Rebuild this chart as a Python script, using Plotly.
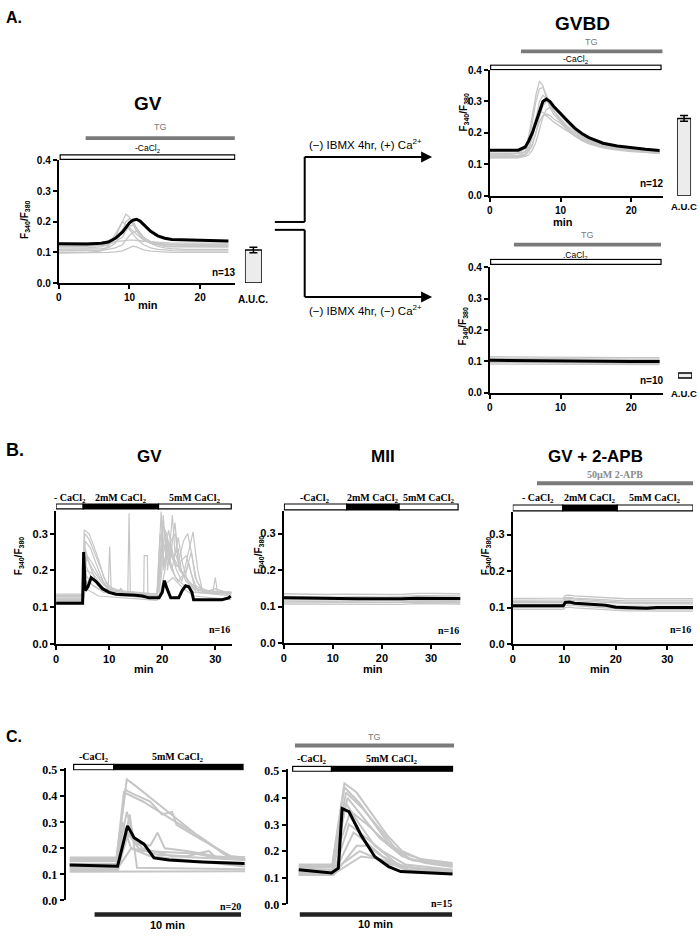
import plotly.graph_objects as go

W, H = 700, 937
FONT = "Liberation Sans, Arial, sans-serif"
SERIF = "Liberation Serif, Times New Roman, serif"
GREY = "#c6c6c6"
DRUG = "#7a7a7a"

# ================= DATA =================
# ---- Panel A, GV oocytes: TG in Ca-free medium ----
a_gv_t = [0, 2, 4, 6, 7, 8, 9, 9.5, 10, 10.5, 11, 11.5, 12, 13, 14, 15, 16, 18, 20, 22, 24]
a_gv_mean = [.128, .128, .127, .13, .134, .146, .166, .181, .196, .205, .208, .202, .19, .169, .154,
             .146, .142, .141, .139, .138, .137]
a_gv_cells = [
    [.115, .115, .115, .118, .125, .15, .2, .225, .215, .19, .17, .155, .14, .13, .125, .122, .12, .12, .12, .12, .12],
    [.11, .11, .11, .112, .115, .13, .17, .2, .21, .2, .18, .16, .145, .13, .125, .12, .118, .118, .117, .117, .117],
    [.12, .12, .12, .122, .125, .135, .15, .17, .185, .19, .18, .165, .15, .135, .13, .128, .126, .125, .125, .125, .125],
    [.105, .105, .105, .107, .11, .115, .125, .14, .155, .165, .17, .16, .145, .13, .12, .115, .112, .11, .11, .11, .11],
    [.1, .1, .1, .105, .12, .16, .2, .19, .175, .16, .145, .135, .125, .115, .11, .108, .106, .105, .105, .105, .105],
    [.13, .13, .13, .13, .132, .135, .138, .14, .14, .14, .14, .138, .136, .134, .132, .13, .13, .13, .13, .13, .13],
    [.098, .098, .098, .099, .1, .102, .105, .11, .115, .12, .118, .112, .108, .104, .102, .1, .1, .1, .1, .1, .1],
    [.12, .12, .12, .123, .13, .145, .175, .185, .18, .17, .16, .15, .14, .132, .128, .126, .125, .124, .124, .124, .124],
]
a_gv_cond = [("-CaCl<sub>2</sub>", 0.2, 24.9, "open")]
a_gv_drug = [("TG", 3.8, 24.9)]

# ---- Panel A, GVBD (+Ca during maturation) ----
a_gvbd_t = [0, 2, 4, 5, 5.5, 6, 6.5, 7, 7.5, 8, 8.5, 9, 10, 11, 12, 13, 14, 15, 16, 18, 20, 22, 24]
a_gvbd_mean = [.145, .145, .145, .155, .175, .2, .235, .27, .3, .308, .3, .285, .26, .238, .215, .198,
               .185, .175, .167, .158, .152, .148, .144]
a_gvbd_cells = [
    [.13, .13, .135, .15, .19, .25, .32, .365, .35, .31, .28, .26, .235, .21, .19, .175, .165, .158, .152, .145, .14, .138, .135],
    [.125, .125, .128, .14, .17, .23, .3, .34, .345, .32, .29, .27, .24, .215, .195, .18, .168, .16, .155, .148, .142, .138, .135],
    [.12, .12, .122, .13, .15, .19, .25, .3, .32, .31, .29, .27, .245, .22, .2, .182, .17, .162, .155, .148, .143, .14, .137],
    [.125, .125, .125, .13, .14, .16, .2, .25, .285, .3, .295, .28, .255, .23, .205, .188, .174, .165, .158, .15, .145, .14, .138],
    [.13, .13, .135, .155, .18, .21, .25, .27, .265, .255, .245, .235, .22, .205, .19, .178, .168, .16, .155, .148, .143, .14, .137],
    [.125, .125, .127, .133, .145, .165, .2, .235, .255, .26, .255, .245, .23, .21, .195, .182, .172, .163, .157, .15, .145, .141, .138],
    [.135, .135, .135, .14, .155, .185, .23, .28, .305, .31, .3, .285, .26, .235, .21, .19, .176, .166, .158, .15, .145, .142, .14],
    [.12, .12, .12, .125, .13, .145, .17, .21, .25, .275, .28, .275, .26, .24, .215, .195, .18, .17, .162, .152, .146, .14, .136],
]
a_gvbd_cond = [("-CaCl<sub>2</sub>", 0.1, 24.2, "open")]
a_gvbd_drug = [("TG", 4.4, 24.4)]

# ---- Panel A, GVBD (-Ca during maturation) ----
a_noca_t = [0, 4, 8, 12, 16, 20, 24]
a_noca_mean = [.104, .103, .101, .1, .1, .1, .1]
a_noca_cells = [
    [.115, .114, .113, .113, .112, .112, .112],
    [.11, .109, .108, .108, .107, .107, .107],
    [.106, .105, .104, .103, .103, .103, .102],
    [.097, .096, .095, .095, .094, .094, .094],
    [.092, .092, .091, .09, .09, .09, .09],
]
a_noca_cond = [(".CaCl<sub>2</sub>", 0.1, 24.2, "open")]
a_noca_drug = [("TG", 3.4, 24.2)]

# ---- A.U.C. bars ----
auc_groups = ["GV", "GVBD (+Ca)", "GVBD (-Ca)"]
auc_values = [0.108, 0.246, 0.016]
auc_base = [0.0, 0.0, 0.047]
auc_err = [0.009, 0.009, 0.0]

# ---- Panel B, GV ----
b_gv_mean_t = [0, 5.0, 5.2, 5.5, 6.0, 6.6, 7.5, 8.75, 10, 11.25, 15, 16.25, 17.5, 19.4, 20, 20.4, 20.9,
               21.6, 23.1, 23.75, 24.4, 25, 25.6, 25.9, 27.5, 31.25, 32.5, 32.9]
b_gv_mean = [.11, .11, .25, .145, .155, .18, .17, .15, .14, .135, .132, .13, .125, .125, .14, .172, .15,
             .125, .125, .145, .158, .155, .14, .12, .12, .12, .125, .13]
b_gv_cells = [
    [(0, .12), (5.0, .12), (5.3, .31), (6.2, .3), (7, .27), (8, .23), (9, .18), (10, .155), (12, .145), (19, .135),
     (19.8, .36), (20.3, .2), (21, .29), (21.6, .22), (22.5, .18), (24, .16), (26, .14), (33, .135)],
    [(0, .13), (5.0, .13), (5.4, .3), (6.2, .285), (7.2, .25), (8.5, .2), (9.5, .165), (11, .145), (19, .13),
     (19.5, .13), (20, .33), (20.7, .29), (21.3, .24), (21.9, .35), (22.4, .25), (23.5, .2), (24.5, .17),
     (26.5, .14), (33, .13)],
    [(0, .125), (5.0, .125), (5.5, .28), (6.5, .26), (7.5, .22), (9, .165), (9.8, .145), (10.1, .265), (10.4, .14),
     (11.5, .14), (12.2, .15), (13, .135), (19, .13), (20.5, .31), (21, .2), (21.6, .28), (22.5, .3), (23, .22),
     (24, .28), (24.8, .3), (25.6, .24), (26.5, .17), (28, .14), (33, .14)],
    [(0, .115), (5.0, .115), (5.5, .26), (6.2, .22), (7.5, .17), (9.5, .14), (13.5, .13), (13.75, .355), (14, .13),
     (16.5, .125), (16.6, .24), (17.2, .24), (17.3, .125), (19.5, .125), (20.5, .2), (21.2, .28), (21.8, .24),
     (22.7, .2), (23.7, .17), (25.8, .305), (26.7, .2), (27.5, .15), (29.5, .14), (30, .18), (30.4, .14), (33, .14)],
    [(0, .12), (5.0, .12), (5.7, .2), (7, .19), (9, .15), (12, .13), (19, .125), (19.8, .18), (20.4, .27),
     (21.4, .22), (22.4, .33), (23.2, .2), (24.5, .18), (26, .15), (28, .14), (30, .15), (33, .135)],
    [(0, .128), (5.0, .128), (5.4, .22), (6.3, .19), (7.8, .16), (9.5, .14), (11.8, .14), (12.2, .15), (12.7, .14),
     (19, .13), (19.7, .2), (20.2, .32), (20.8, .3), (21.4, .25), (22, .23), (23, .26), (23.6, .2), (24.2, .18),
     (25, .22), (26, .16), (28, .145), (33, .14)],
    [(0, .118), (5.0, .118), (5.5, .19), (6.8, .16), (9, .14), (19, .125), (20, .28), (20.8, .24), (21.8, .2),
     (23, .29), (23.8, .22), (24.8, .17), (27, .14), (33, .135)],
    [(0, .135), (5.0, .135), (5.8, .17), (8, .15), (12, .14), (19, .135), (19.8, .25), (20.6, .22), (21.6, .27),
     (22.6, .21), (24.5, .24), (25.5, .19), (26.5, .15), (29, .14), (33, .138)],
    [(0, .112), (5.0, .112), (5.6, .15), (8, .13), (19, .118), (20.4, .16), (22, .18), (24, .15), (26, .13),
     (33, .12)],
    [(0, .122), (5.0, .122), (5.8, .24), (6.8, .22), (8.3, .18), (10, .15), (14, .135), (19, .128), (19.6, .3),
     (20.3, .22), (21, .26), (21.8, .2), (23, .17), (24.5, .2), (25.5, .25), (26.2, .18), (27.5, .145), (33, .14)],
    [(0, .132), (5.0, .132), (5.5, .24), (7, .2), (9, .16), (11, .14), (19, .13), (20.2, .35), (20.6, .26),
     (21.2, .31), (22, .24), (23, .21), (24, .19), (25, .17), (27, .145), (31, .14), (33, .14)],
]
b_gv_cond = [("- CaCl<sub>2</sub>", 0.0, 5.1, "open"), ("2mM CaCl<sub>2</sub>", 5.1, 19.3, "filled"),
             ("5mM CaCl<sub>2</sub>", 19.3, 33.0, "open")]

# ---- Panel B, MII ----
b_mii_t = [0, 3, 6, 9, 12, 15, 18, 21, 24, 27, 30, 33, 36]
b_mii_mean = [.124, .123, .124, .122, .121, .121, .121, .12, .121, .123, .122, .122, .122]
b_mii_cells = [
    [.135, .134, .135, .133, .134, .133, .132, .133, .133, .136, .136, .135, .135],
    [.128, .127, .128, .127, .126, .127, .126, .126, .127, .13, .13, .13, .129],
    [.118, .118, .117, .117, .116, .116, .116, .116, .116, .118, .118, .117, .117],
    [.112, .112, .111, .111, .11, .11, .11, .11, .11, .112, .112, .111, .111],
    [.107, .107, .106, .106, .105, .105, .105, .105, .106, .108, .108, .107, .107],
    [.124, .123, .122, .122, .121, .121, .12, .121, .121, .125, .125, .124, .124],
    [.115, .115, .114, .113, .113, .113, .112, .112, .113, .115, .115, .114, .114],
]
b_mii_cond = [("-CaCl<sub>2</sub>", 0.1, 12.8, "open"), ("2mM CaCl<sub>2</sub>", 12.8, 23.5, "filled"),
              ("5mM CaCl<sub>2</sub>", 23.5, 35.5, "open")]

# ---- Panel B, GV + 2-APB ----
b_apb_t = [0, 5, 9.8, 10.2, 11, 12, 14, 16, 18, 20, 22, 25, 26, 28, 31, 35]
b_apb_mean = [.105, .105, .105, .114, .115, .112, .11, .108, .106, .101, .1, .1, .098, .1, .1, .1]
b_apb_cells = [
    [.125, .125, .126, .133, .134, .132, .13, .128, .127, .125, .124, .124, .124, .124, .124, .124],
    [.12, .12, .121, .127, .128, .126, .124, .122, .121, .119, .118, .118, .118, .118, .118, .118],
    [.113, .113, .113, .12, .121, .119, .117, .115, .114, .112, .111, .111, .11, .11, .11, .11],
    [.108, .108, .108, .115, .116, .114, .112, .11, .108, .105, .104, .104, .103, .103, .103, .103],
    [.1, .1, .1, .106, .107, .105, .103, .101, .099, .096, .095, .095, .094, .094, .094, .094],
    [.095, .095, .095, .1, .101, .099, .097, .095, .094, .092, .091, .091, .09, .09, .09, .09],
    [.117, .117, .117, .124, .125, .123, .121, .119, .117, .115, .114, .114, .113, .113, .113, .113],
]
b_apb_cond = [("- CaCl<sub>2</sub>", 0.0, 9.7, "open"), ("2mM CaCl<sub>2</sub>", 9.7, 20.3, "filled"),
              ("5mM CaCl<sub>2</sub>", 20.3, 35.0, "open")]
b_apb_drug = [("50µM 2-APB", 4.7, 35.0)]

# ---- Panel C, left (no TG) ----
c_l_mean_t = [0, 3.27, 3.95, 4.4, 5.08, 5.76, 6.78, 9.05, 11.95]
c_l_mean = [.136, .131, .286, .241, .216, .163, .155, .148, .142]
c_l_cells = [
    [(0, .165), (3.2, .165), (3.9, .465), (4.5, .44), (6.5, .35), (8.5, .26), (10.5, .18), (11.2, .16), (12, .16)],
    [(0, .15), (3.2, .15), (3.8, .425), (4.3, .41), (5.5, .38), (6.3, .33), (7.0, .34), (7.3, .29), (8.5, .25),
     (10, .2), (11, .17), (12, .165)],
    [(0, .16), (3.2, .16), (3.7, .415), (5, .38), (7, .31), (9, .24), (10.8, .17), (12, .165)],
    [(0, .14), (3.2, .14), (3.9, .34), (4.5, .22), (5.5, .21), (6, .26), (6.5, .2), (8, .19), (10, .17), (12, .16)],
    [(0, .13), (3.2, .13), (3.6, .3), (4.2, .2), (5, .19), (6.5, .185), (8.5, .18), (10, .165), (12, .16)],
    [(0, .12), (3.3, .12), (4.0, .26), (4.7, .2), (6, .175), (8, .17), (9.5, .19), (10, .165), (12, .155)],
    [(0, .115), (3.3, .115), (4.1, .33), (4.6, .125), (12, .12)],
    [(0, .11), (6, .11), (12, .112)],
    [(0, .125), (3.3, .125), (4.2, .2), (5.5, .17), (12, .13)],
    [(0, .155), (3.2, .155), (4, .25), (5, .2), (7, .17), (12, .155)],
]
c_l_cond = [("-CaCl<sub>2</sub>", 0.27, 3.0, "open"), ("5mM CaCl<sub>2</sub>", 3.0, 11.84, "filled")]
c_l_scale = [("10 min", 1.7, 11.7)]

# ---- Panel C, right (TG) ----
c_r_mean_t = [0, 2.15, 2.6, 2.85, 3.3, 4.1, 5.0, 5.9, 6.7, 10.1]
c_r_mean = [.13, .118, .136, .36, .348, .259, .179, .142, .123, .114]
c_r_cells = [
    [(0, .15), (2.2, .15), (3.0, .455), (3.8, .42), (4.8, .34), (5.8, .26), (6.8, .2), (8, .17), (10.1, .155)],
    [(0, .14), (2.2, .14), (3.0, .44), (4.0, .38), (5.0, .3), (6.0, .22), (7.2, .17), (10.1, .145)],
    [(0, .13), (2.2, .13), (3.1, .42), (4.2, .36), (5.5, .27), (6.5, .2), (7.5, .165), (10.1, .15)],
    [(0, .12), (2.2, .12), (3.2, .4), (4.2, .33), (5.3, .25), (6.8, .18), (8.3, .155), (10.1, .14)],
    [(0, .11), (2.2, .11), (3.1, .38), (4.0, .3), (5, .22), (6.5, .15), (8, .13), (10.1, .125)],
    [(0, .125), (2.3, .12), (3.3, .3), (4.0, .27), (5.5, .2), (7, .15), (10.1, .13)],
    [(0, .118), (2.3, .115), (3.6, .27), (4.3, .24), (5.5, .18), (7, .14), (10.1, .125)],
    [(0, .112), (2.3, .11), (3.8, .22), (4.5, .22), (6, .16), (7.5, .125), (10.1, .12)],
    [(0, .135), (2.3, .13), (4.0, .2), (4.8, .18), (6, .15), (8, .135), (10.1, .13)],
    [(0, .145), (2.2, .145), (3.4, .35), (4.5, .3), (5.8, .23), (7, .19), (8.5, .16), (10.1, .15)],
    [(0, .115), (2.3, .115), (4.1, .18), (5.4, .17), (7, .13), (10.1, .12)],
]
c_r_cond = [("-CaCl<sub>2</sub>", -0.4, 2.15, "open"), ("5mM CaCl<sub>2</sub>", 2.15, 10.1, "filled")]
c_r_drug = [("TG", -0.25, 10.2)]
c_r_scale = [("10 min", 0.07, 10.07)]

# ================= BUILD =================
fig = go.Figure()
FILL = {"open": "white", "filled": "black"}
_n = [0]


def axstyle(size=10, family=FONT):
    return dict(showline=True, linecolor="black", linewidth=2, ticks="outside", ticklen=4, tickwidth=2,
                tickcolor="black", showgrid=False, zeroline=False,
                tickfont=dict(family=family, size=size, color="black", weight="bold"))


def new_pair(xd, yd, xr, yr, xs=None, ys=None):
    _n[0] += 1
    k = _n[0]
    s = "" if k == 1 else str(k)
    xa = dict(domain=[xd[0] / W, xd[1] / W], range=xr, anchor="y" + s, fixedrange=True,
              visible=xs is not None)
    ya = dict(domain=[1 - yd[1] / H, 1 - yd[0] / H], range=yr, anchor="x" + s, fixedrange=True,
              visible=ys is not None)
    if xs:
        xa.update(xs)
    if ys:
        ya.update(ys)
    fig.update_layout(**{"xaxis" + s: xa, "yaxis" + s: ya})
    return "x" + s, "y" + s


def xy(t, c):
    if isinstance(c[0], (tuple, list)):
        return [p[0] for p in c], [p[1] for p in c]
    return t, c


def panel(xd, yd, xr, yr, xticks, yticks, t, mean, cells, mean_t=None, show_x=True, gw=1.3, mw=3,
          tsize=10, tfam=FONT):
    xs = dict(axstyle(tsize, tfam), tickvals=xticks, ticktext=[str(v) for v in xticks]) if show_x else None
    ys = dict(axstyle(tsize, tfam), tickvals=yticks, tickformat=".1f")
    xn, yn = new_pair(xd, yd, xr, yr, xs, ys)
    for c in cells:
        cx, cy = xy(t, c)
        fig.add_trace(go.Scatter(x=cx, y=cy, mode="lines", line=dict(color=GREY, width=gw),
                                 xaxis=xn, yaxis=yn, showlegend=False, hoverinfo="skip"))
    fig.add_trace(go.Scatter(x=mean_t if mean_t is not None else t, y=mean, mode="lines",
                             line=dict(color="black", width=mw), xaxis=xn, yaxis=yn,
                             showlegend=False, hoverinfo="skip"))
    return xn, yn


def strip(xd, ytop, ybot, xr, segs, fills, outline):
    pad = (ybot - ytop) * 0.2
    xn, yn = new_pair(xd, (ytop - pad, ybot + pad), xr, [-0.7, 0.7])
    st = [s[1] for s in segs]
    ln = [s[2] - s[1] for s in segs]
    fig.add_trace(go.Bar(orientation="h", y=[0] * len(segs), x=ln, base=st, width=[1] * len(segs),
                         marker=dict(color=fills, line=dict(color="black", width=outline)),
                         xaxis=xn, yaxis=yn, showlegend=False, hoverinfo="skip"))
    return xn


def txt(x, py, text, size=10, bold=False, color="black", angle=0, xref="paper", family=FONT):
    fig.add_annotation(x=x / W if xref == "paper" else x, y=1 - py / H, xref=xref, yref="paper",
                       text=text, showarrow=False, xanchor="center", yanchor="middle",
                       textangle=angle,
                       font=dict(family=family, size=size, color=color, weight="bold" if bold else "normal"))


def cond(xd, ytop, ybot, xr, segs, label_py, size=9, bold=False, family=FONT):
    xn = strip(xd, ytop, ybot, xr, segs, [FILL[s[3]] for s in segs], 1.2)
    for s in segs:
        txt((s[1] + s[2]) / 2, label_py, s[0], size=size, bold=bold, xref=xn, family=family)


def drug(xd, ytop, ybot, xr, segs, label_py, size=9, bold=False, color=DRUG, fill=DRUG, family=FONT):
    xn = strip(xd, ytop, ybot, xr, segs, [fill] * len(segs), 0)
    for s in segs:
        txt((s[1] + s[2]) / 2, label_py, s[0], size=size, bold=bold, color=color, xref=xn, family=family)


def auc(xd, yd, yr, i, label_py, label_x):
    xn, yn = new_pair(xd, yd, [-0.5, 0.5], yr)
    fig.add_trace(go.Bar(x=[0], y=[auc_values[i]], base=[auc_base[i]], width=[1],
                         marker=dict(color="#ececec", line=dict(color="black", width=1.5)),
                         error_y=dict(type="data", array=[auc_err[i]], visible=auc_err[i] > 0,
                                      color="black", thickness=1.5, width=4),
                         xaxis=xn, yaxis=yn, showlegend=False, hoverinfo="skip"))
    txt(label_x, label_py, "A.U.C" + ("." if i == 0 else ""), size=10 if i == 0 else 9.5, bold=True)


YLAB = "F<sub>340</sub>/F<sub>380</sub>"

# ---- Panel A ----
txt(11, 12, "A.", size=16, bold=True)
# GV
xdA = (56, 233.5)
panel(xdA, (156.5, 281), [0, 25], [0, 0.4], [0, 10, 20], [0, .1, .2, .3, .4], a_gv_t, a_gv_mean, a_gv_cells)
cond(xdA, 151, 155.5, [0, 25], a_gv_cond, 144, size=8.5)
drug(xdA, 132, 136, [0, 25], a_gv_drug, 123)
auc((243, 260), (156.5, 281), [0, 0.4], 0, 298, 251)
txt(146, 99, "GV", size=19, bold=True)
txt(222, 270, "n=13", size=10, bold=True)
txt(146, 303, "min", size=11, bold=True)
txt(22, 217, YLAB, size=10, bold=True, angle=-90)
# GVBD
xdB = (489, 663)
panel(xdB, (65, 192.3), [0, 24.5], [0, 0.4], [0, 10, 20], [0, .1, .2, .3, .4], a_gvbd_t, a_gvbd_mean, a_gvbd_cells)
cond(xdB, 60, 64.5, [0, 24.5], a_gvbd_cond, 54, size=8.5)
drug(xdB, 44, 48, [0, 24.5], a_gvbd_drug, 37)
auc((677, 691), (65, 192.3), [0, 0.4], 1, 203, 684)
txt(582, 18, "GVBD", size=19, bold=True)
txt(652, 180, "n=12", size=10, bold=True)
txt(562, 219, "min", size=11, bold=True)
txt(462, 108, YLAB, size=10, bold=True, angle=-90)
# -Ca
panel(xdB, (265, 392.3), [0, 24.5], [0, 0.4], [0, 10, 20], [0, .1, .2, .3, .4], a_noca_t, a_noca_mean, a_noca_cells)
cond(xdB, 257, 262, [0, 24.5], a_noca_cond, 253, size=8.5)
drug(xdB, 240, 244, [0, 24.5], a_noca_drug, 232)
auc((678, 692), (265, 392.3), [0, 0.4], 2, 393, 684)
txt(652, 380, "n=10", size=10, bold=True)
txt(462, 325, YLAB, size=10, bold=True, angle=-90)

# arrows between GV and GVBD
LW = dict(color="black", width=2)
for (x0, y0, x1, y1) in [(273, 219, 303, 219), (303, 219, 303, 153), (303, 153, 424, 153),
                         (273, 227, 303, 227), (303, 227, 303, 295), (303, 295, 424, 295)]:
    fig.add_shape(type="line", xref="paper", yref="paper", x0=x0 / W, y0=1 - y0 / H, x1=x1 / W,
                  y1=1 - y1 / H, line=LW)
for yy in (153, 295):
    fig.add_annotation(x=431 / W, y=1 - yy / H, xref="paper", yref="paper", ax=-14, ay=0, text="",
                       showarrow=True, arrowhead=2, arrowsize=1.1, arrowwidth=2, arrowcolor="black")
txt(364, 140, "(\u2212) IBMX 4hr, (+) Ca<sup>2+</sup>", size=11.5)
txt(364, 308, "(\u2212) IBMX 4hr, (\u2212) Ca<sup>2+</sup>", size=11.5)

# ---- Panel B ----
txt(12, 450, "B.", size=18, bold=True)
BY = [0, 0.362]
BT = [0, .1, .2, .3]
xd1 = (53.3, 230.3)
panel(xd1, (512, 646.7), [0, 33.2], BY, [0, 10, 20, 30], BT, None, b_gv_mean, b_gv_cells, mean_t=b_gv_mean_t,
      gw=1.2, tsize=11)
cond(xd1, 505, 510, [0, 33.2], b_gv_cond, 499, size=10, bold=True, family=SERIF)
txt(147, 457, "GV", size=17, bold=True)
txt(217, 632, "n=16", size=10, bold=True, family=SERIF)
txt(142, 672, "min", size=11, bold=True)
txt(16, 558, YLAB, size=10, bold=True, angle=-90)

xd2 = (282, 459.5)
panel(xd2, (512, 646), [0, 36], BY, [0, 10, 20, 30], BT, b_mii_t, b_mii_mean, b_mii_cells, tsize=11)
cond(xd2, 505, 511, [0, 36], b_mii_cond, 499, size=10, bold=True, family=SERIF)
txt(382, 457, "MII", size=17, bold=True)
txt(447, 633, "n=16", size=10, bold=True, family=SERIF)
txt(372, 672, "min", size=11, bold=True)
txt(257, 557, YLAB, size=10, bold=True, angle=-90)

xd3 = (512, 693)
panel(xd3, (513, 647), [0, 35], BY, [0, 10, 20, 30], BT, b_apb_t, b_apb_mean, b_apb_cells, tsize=11)
cond(xd3, 506, 512, [0, 35], b_apb_cond, 499, size=10, bold=True, family=SERIF)
drug(xd3, 482, 486, [0, 35], b_apb_drug, 475, size=10, bold=True, color="#8a8a8a", family=SERIF)
txt(595, 457, "GV + 2-APB", size=17, bold=True)
txt(680, 632, "n=16", size=10, bold=True, family=SERIF)
txt(600, 672, "min", size=11, bold=True)
txt(485, 558, YLAB, size=10, bold=True, angle=-90)

# ---- Panel C ----
txt(11, 741, "C.", size=16, bold=True)
CY = [0, 0.5075]
CT = [0, .1, .2, .3, .4, .5]
xdl = (63, 243.4)
panel(xdl, (773, 907), [-0.27, 12], CY, [], CT, None, c_l_mean, c_l_cells, mean_t=c_l_mean_t, show_x=False,
      gw=2, mw=3, tsize=12, tfam=SERIF)
cond(xdl, 769, 774.5, [-0.27, 12], c_l_cond, 762, size=10, bold=True, family=SERIF)
strip(xdl, 919, 923.5, [-0.27, 12], c_l_scale, ["#222222"], 0)
txt((c_l_scale[0][1] + c_l_scale[0][2]) / 2, 932, c_l_scale[0][0], size=11, bold=True,
    xref="x" + str(_n[0]))
txt(228, 913, "n=20", size=10, bold=True, family=SERIF)

xdr = (286, 453)
panel(xdr, (774, 911), [-0.72, 10.2], CY, [], CT, None, c_r_mean, c_r_cells, mean_t=c_r_mean_t, show_x=False,
      gw=2, mw=3, tsize=12, tfam=SERIF)
cond(xdr, 771, 776, [-0.72, 10.2], c_r_cond, 764, size=10, bold=True, family=SERIF)
drug(xdr, 748, 752, [-0.72, 10.2], c_r_drug, 741, size=9)
strip(xdr, 919, 923.5, [-0.72, 10.2], c_r_scale, ["#222222"], 0)
txt((c_r_scale[0][1] + c_r_scale[0][2]) / 2, 931, c_r_scale[0][0], size=11, bold=True,
    xref="x" + str(_n[0]))
txt(440, 910, "n=15", size=10, bold=True, family=SERIF)

fig.update_layout(width=W, height=H, autosize=False, margin=dict(l=0, r=0, t=0, b=0),
                  paper_bgcolor="white", plot_bgcolor="rgba(0,0,0,0)", barmode="overlay",
                  font=dict(family=FONT, color="black"), showlegend=False)
fig.write_html("out.html", config={"displayModeBar": False},
               post_script="document.body.style.margin='0';document.body.style.overflow='hidden';")
